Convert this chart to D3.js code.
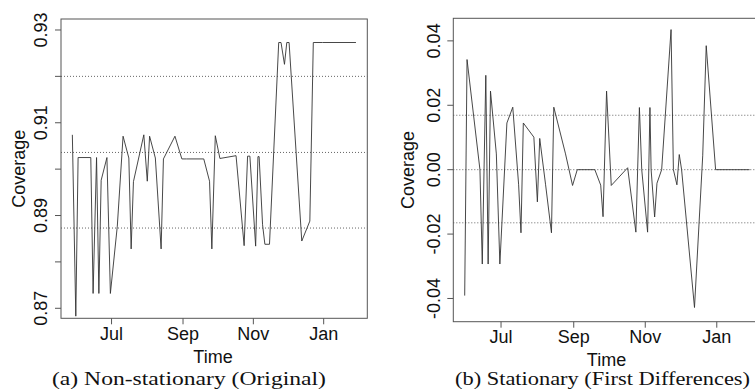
<!DOCTYPE html>
<html>
<head>
<meta charset="utf-8">
<script src="https://cdn.jsdelivr.net/npm/d3@7"></script>
<style>
  body { margin: 0; background: #fff; }
  svg { display: block; }
</style>
</head>
<body>
<svg id="chart" width="755" height="392"></svg>
<script>
// observation dates (left panel uses all, right panel drops the first)
const dates = [
  "2019-05-28", "2019-05-31", "2019-06-02", "2019-06-13", "2019-06-15", "2019-06-18",
  "2019-06-20", "2019-06-22", "2019-06-27", "2019-06-30", "2019-07-06", "2019-07-11",
  "2019-07-16", "2019-07-18", "2019-07-20", "2019-07-29", "2019-08-01", "2019-08-03",
  "2019-08-08", "2019-08-13", "2019-08-15", "2019-08-25", "2019-08-31", "2019-09-04",
  "2019-09-19", "2019-09-24", "2019-09-26", "2019-09-29", "2019-10-03", "2019-10-17",
  "2019-10-24", "2019-10-27", "2019-10-29", "2019-11-03", "2019-11-05", "2019-11-06",
  "2019-11-09", "2019-11-11", "2019-11-15", "2019-11-23", "2019-11-25", "2019-11-28",
  "2019-11-30", "2019-12-02", "2019-12-13", "2019-12-20", "2019-12-23", "2019-12-31",
  "2020-01-29"
];

const coverage = [
  0.9074, 0.8683, 0.9025, 0.9025, 0.8732, 0.9025,
  0.8732, 0.8976, 0.9025, 0.8732, 0.8877, 0.9071,
  0.9024, 0.8828, 0.8973, 0.9074, 0.8974, 0.9071,
  0.9024, 0.8828, 0.9022, 0.9071, 0.9022, 0.9022,
  0.9022, 0.8974, 0.8828, 0.9072, 0.9023, 0.9029,
  0.8835, 0.9028, 0.9028, 0.8834, 0.9027, 0.9027,
  0.8880, 0.8838, 0.8838, 0.9273, 0.9273, 0.9226,
  0.9273, 0.9273, 0.8845, 0.8888, 0.9273, 0.9273,
  0.9273
];

// first differences, one per date from dates[1]
const diffs = [
  -0.0391, 0.0342, 0.0000, -0.0293, 0.0293,
  -0.0293, 0.0244, 0.0049, -0.0293, 0.0145, 0.0194,
  -0.0047, -0.0196, 0.0145, 0.0101, -0.0100, 0.0097,
  -0.0047, -0.0196, 0.0194, 0.0049, -0.0049, 0.0000,
  0.0000, -0.0048, -0.0146, 0.0244, -0.0049, 0.0006,
  -0.0194, 0.0193, 0.0000, -0.0194, 0.0193, 0.0000,
  -0.0147, -0.0042, 0.0000, 0.0435, 0.0000, -0.0047,
  0.0047, 0.0000, -0.0428, 0.0043, 0.0385, 0.0000,
  0.0000
];

const leftRefs = [0.8873, 0.9036, 0.9200];
const rightRefs = [-0.0165, 0.0000, 0.0169];

const leftTicks = [0.87, 0.88, 0.89, 0.90, 0.91, 0.92, 0.93];
const leftTickLabels = ["0.87", "", "0.89", "", "0.91", "", "0.93"];
const rightTicks = [-0.04, -0.02, 0.00, 0.02, 0.04];
const rightTickLabels = ["-0.04", "-0.02", "0.00", "0.02", "0.04"];
const monthTicks = ["2019-07-01", "2019-09-01", "2019-11-01", "2020-01-01"];

const parse = d3.timeParse("%Y-%m-%d");
const svg = d3.select("#chart");
svg.append("rect").attr("width", 755).attr("height", 392).attr("fill", "#fff");

function padded(ext) {
  const r = ext[1] - ext[0];
  return [ext[0] - r * 0.04, ext[1] + r * 0.04];
}

function drawPanel(p) {
  const t = p.dates.map(parse);
  const tExt = d3.extent(t).map(d => +d);
  const x = d3.scaleTime()
    .domain(padded(tExt).map(d => new Date(d)))
    .range([p.left, p.right]);
  const y = d3.scaleLinear().domain(p.yDomain).range([p.bottom, p.top]);

  const g = svg.append("g");
  const sans = "'Liberation Sans', Arial, Helvetica, sans-serif";

  // reference lines
  g.selectAll("line.ref")
    .data(p.refs)
    .join("line")
    .attr("x1", p.left).attr("x2", p.right)
    .attr("y1", d => y(d)).attr("y2", d => y(d))
    .attr("stroke", "#555")
    .attr("stroke-width", 0.9)
    .attr("stroke-dasharray", "1,2");

  // series
  const line = d3.line()
    .x((d, i) => x(t[i]))
    .y(d => y(d));
  g.append("path")
    .datum(p.values)
    .attr("d", line)
    .attr("fill", "none")
    .attr("stroke", "#333")
    .attr("stroke-width", 0.9);

  // frame
  g.append("rect")
    .attr("x", p.left).attr("y", p.top)
    .attr("width", p.right - p.left).attr("height", p.bottom - p.top)
    .attr("fill", "none").attr("stroke", "#555").attr("stroke-width", 1);

  // y axis
  g.selectAll("line.yt")
    .data(p.yTicks)
    .join("line")
    .attr("x1", p.left - 6).attr("x2", p.left)
    .attr("y1", d => y(d)).attr("y2", d => y(d))
    .attr("stroke", "#555");
  g.selectAll("text.yl")
    .data(p.yTicks)
    .join("text")
    .attr("transform", d => `translate(${p.yLabelX},${y(d)}) rotate(-90)`)
    .attr("text-anchor", "middle")
    .style("font-family", sans)
    .style("font-size", "18px")
    .attr("fill", "#111")
    .text((d, i) => p.yLabels[i]);
  g.append("text")
    .attr("transform", `translate(${p.titleX},${(p.top + p.bottom) / 2}) rotate(-90)`)
    .attr("text-anchor", "middle")
    .style("font-family", sans)
    .style("font-size", "18px")
    .attr("fill", "#111")
    .text("Coverage");

  // x axis
  const mt = monthTicks.map(parse);
  g.selectAll("line.xt")
    .data(mt)
    .join("line")
    .attr("x1", d => x(d)).attr("x2", d => x(d))
    .attr("y1", p.bottom).attr("y2", p.bottom + 6)
    .attr("stroke", "#555");
  g.selectAll("text.xl")
    .data(mt)
    .join("text")
    .attr("x", d => x(d))
    .attr("y", p.bottom + 21.5)
    .attr("text-anchor", "middle")
    .style("font-family", sans)
    .style("font-size", "18px")
    .attr("fill", "#111")
    .text(d3.timeFormat("%b"));
  g.append("text")
    .attr("x", p.timeX)
    .attr("y", p.timeY)
    .attr("text-anchor", "middle")
    .style("font-family", sans)
    .style("font-size", "18px")
    .attr("fill", "#111")
    .text("Time");

  // caption
  g.append("text")
    .attr("x", p.capX)
    .attr("y", 385)
    .attr("text-anchor", "middle")
    .attr("textLength", p.capW)
    .attr("lengthAdjust", "spacingAndGlyphs")
    .style("font-family", "'Liberation Serif', 'Times New Roman', serif")
    .style("font-size", "19px")
    .attr("fill", "#111")
    .text(p.caption);
}

drawPanel({
  dates: dates,
  values: coverage,
  refs: leftRefs,
  yTicks: leftTicks,
  yLabels: leftTickLabels,
  yDomain: [0.86784, 0.93237],
  left: 61, right: 367.3, top: 19, bottom: 318.3,
  yLabelX: 46.5, titleX: 25, timeX: 213, timeY: 363,
  capX: 189, capW: 274,
  caption: "(a) Non-stationary (Original)"
});

drawPanel({
  dates: dates.slice(1),
  values: diffs,
  refs: rightRefs,
  yTicks: rightTicks,
  yLabels: rightTickLabels,
  yDomain: [-0.04721, 0.04701],
  left: 453.3, right: 761, top: 18.3, bottom: 321.7,
  yLabelX: 440, titleX: 414, timeX: 606.5, timeY: 365.5,
  capX: 602.5, capW: 295,
  caption: "(b) Stationary (First Differences)"
});
</script>
</body>
</html>
